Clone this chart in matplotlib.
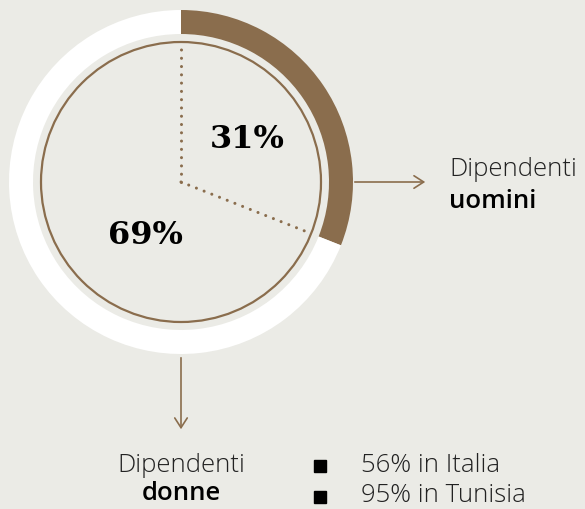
import matplotlib.pyplot as plt
from matplotlib.patches import Wedge, Circle
import numpy as np

# data
categories = ["uomini", "donne"]
shares = [31, 69]
share_labels = ["31%", "69%"]
detail_lines = ["56% in Italia", "95% in Tunisia"]

bg = "#EBEBE6"
brown = "#8A6D4D"

fig = plt.figure(figsize=(5.85, 5.09), dpi=100)
fig.patch.set_facecolor(bg)
ax = fig.add_axes([0, 0, 1, 1])
ax.set_xlim(0, 585)
ax.set_ylim(509, 0)
ax.set_aspect("equal")
ax.axis("off")

cx, cy = 181, 182
r_out, ring_w, r_in = 172, 24, 140

# outer ring: men share in brown starting at top going clockwise, rest white
start = 90
men_end = start - shares[0] / 100 * 360
# axis y is inverted, so flip angles
ax.add_patch(Wedge((cx, cy), r_out, -start, -men_end, width=ring_w,
                   facecolor=brown, edgecolor="none"))
ax.add_patch(Wedge((cx, cy), r_out, -men_end, -start + 360, width=ring_w,
                   facecolor="white", edgecolor="none"))

# inner thin circle
ax.add_patch(Circle((cx, cy), r_in, facecolor="none", edgecolor=brown, lw=1.6))

# dotted separators
for ang in [start, men_end]:
    a = np.radians(ang)
    ax.plot([cx, cx + r_in * np.cos(a)], [cy, cy - r_in * np.sin(a)],
            color=brown, lw=2.2, ls=(0, (0.01, 2.7)), dash_capstyle="round")

# percentage labels
ax.text(247, 140, share_labels[0], fontsize=23, fontweight="bold",
        family="DejaVu Serif", ha="center", va="center", color="black")
ax.text(145, 235, share_labels[1], fontsize=23, fontweight="bold",
        family="DejaVu Serif", ha="center", va="center", color="black")

# arrows
ax.annotate("", xy=(428, 182), xytext=(352, 182),
            arrowprops=dict(arrowstyle="->,head_length=0.7,head_width=0.45",
                            color=brown, lw=1.2))
ax.annotate("", xy=(181, 432), xytext=(181, 355),
            arrowprops=dict(arrowstyle="->,head_length=0.7,head_width=0.45",
                            color=brown, lw=1.2))

font = "Open Sans"
fs = 18.5
ax.text(449, 170, "Dipendenti", fontsize=fs, family=font, fontweight="light",
        ha="left", va="center", color="#222222")
ax.text(449, 201, categories[0], fontsize=fs, family=font, fontweight="semibold",
        ha="left", va="center", color="black")

ax.text(181, 465, "Dipendenti", fontsize=fs, family=font, fontweight="light",
        ha="center", va="center", color="#222222")
ax.text(181, 494, categories[1], fontsize=fs, family=font, fontweight="semibold",
        ha="center", va="center", color="black")

for i, line in enumerate(detail_lines):
    y = 465 + i * 31
    ax.plot(320, y + 1, marker="s", ms=9, color="black")
    ax.text(361, y, line, fontsize=fs, family=font, fontweight="light",
            ha="left", va="center", color="#222222")

fig.savefig("out.png", dpi=100, facecolor=bg)
